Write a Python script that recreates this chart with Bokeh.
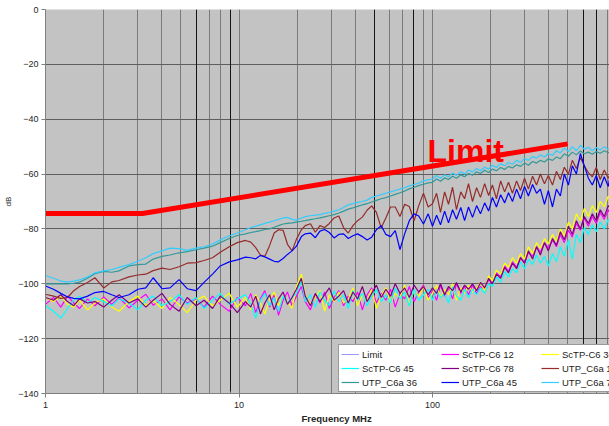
from bokeh.plotting import figure
from bokeh.models import (FixedTicker, Grid, Label, Legend, LegendItem, Range1d,
                          BasicTickFormatter, Title)
from bokeh.embed import file_html
from bokeh.resources import INLINE

# ---------------- data ----------------
FREQ = [1, 1.1, 1.2, 1.3, 1.4, 1.5, 1.65, 1.8, 2, 2.2,
        2.4, 2.7, 3, 3.3, 3.6, 4, 4.4, 4.9, 5.4, 6,
        6.6, 7.3, 8, 8.9, 9.8,
        10.8, 11.5, 12.2, 12.9, 13.6, 14.4, 15.2, 16, 16.9, 17.8,
        18.8, 19.8, 21, 22, 23.4, 24.8, 26.2, 27.7, 29.3, 31,
        32.8, 34.7, 36.7, 38.8, 41, 43.4, 45.9, 48.5, 51.3, 54.3,
        57.4, 60.7, 64.2, 67.9, 71.8, 75.9, 80.3, 84.9, 89.8, 95,
        100, 105, 110, 115.5, 121, 127, 133, 140, 146.5, 153.5,
        161, 169, 177, 186, 195, 204, 214, 225, 236, 247,
        259, 272, 285, 299, 313, 329, 345, 361, 379, 397,
        417, 437, 458, 480, 504, 528, 554, 581, 609, 639,
        670, 702, 736, 772, 810, 830]

LIMIT_FREQ = [1, 3.17, 500]
LIMIT_DB = [-74.4, -74.4, -49]

SCTP_12 = [-107.5, -105, -108.5, -104.5, -107, -109, -105.5, -108, -104.8, -107.5,
           -105, -108.8, -106, -103.8, -107.8, -105.5, -109.5, -104.8, -107, -105.5,
           -108.5, -104.5, -107.5, -110, -105,
           -108, -103.5, -110.5, -105.5, -102.5, -108.5, -104, -111.5, -106, -103,
           -108, -104.5, -101, -106.5, -109.5, -104, -107, -103, -109, -105,
           -102.5, -108, -104.5, -106.5, -103, -109.5, -104, -101.5, -107, -103.5,
           -106, -102, -108.5, -103.5, -105.5, -101, -106.5, -103, -100.5, -105,
           -102.5, -106, -100.5, -104.5, -101.5, -105.5, -100, -103.5, -101, -104,
           -100.5, -103.5, -101, -102, -98.5, -100, -96, -97.5, -93.5, -95.5,
           -92, -94, -90.5, -92.5, -88.5, -90, -86.5, -88.5, -85, -87,
           -84, -86.5, -82, -85, -80.5, -83, -78, -80.5, -76, -79,
           -75.5, -78, -74, -76.5, -73, -74.5]

SCTP_36 = [-105, -106.5, -104.5, -107.5, -108.5, -106, -109.5, -107, -105.5, -108.5,
           -110, -106.5, -104.5, -108, -106, -109, -105, -107.5, -110.5, -106,
           -104.5, -108, -106, -103.5, -108.5,
           -105, -109.5, -104, -107, -111, -105.5, -103, -108, -104.5, -106.5,
           -109, -101, -96.5, -104, -107.5, -105, -102.5, -110, -104, -106.5,
           -103, -107, -105.5, -101.5, -108, -104, -106.5, -102, -109, -104.5,
           -101.5, -107, -103.5, -105, -100.5, -107.5, -102.5, -104.5, -101, -106,
           -103.5, -100.5, -105, -102, -104, -100, -106, -101.5, -103.5, -100.5,
           -103, -101.5, -99.5, -102.5, -97, -99, -95, -96.5, -92.5, -94,
           -90.5, -92.5, -89, -91, -86.5, -89, -85, -87, -83.5, -85.5,
           -82, -84.5, -80, -82.5, -77.5, -80, -74.5, -77, -72.5, -75.5,
           -71.5, -74, -70, -72, -68, -69.5]

SCTP_45 = [-108, -110, -112.5, -109, -106, -104.5, -107, -105, -106.5, -108,
           -105.5, -107, -109.5, -106, -104.5, -108, -106.5, -104, -107.5, -105,
           -109, -106, -103.5, -107.5, -105.5,
           -104, -107.5, -112.5, -106, -103.5, -108, -105, -110, -104.5, -107,
           -105, -103.5, -99, -106.5, -104, -108.5, -103, -106, -108, -102.5,
           -106.5, -104, -109, -102.5, -106, -103.5, -108, -104.5, -102, -106.5,
           -104, -107, -101.5, -105.5, -103, -108, -102, -106, -104, -102,
           -106, -102.5, -105, -103.5, -107, -101, -104.5, -106, -102, -105,
           -102, -104, -101.5, -103.5, -100, -101, -97.5, -99.5, -95.5, -97.5,
           -94.5, -96, -92, -94.5, -91, -93, -89.5, -92.5, -90, -93.5,
           -89, -92, -86.5, -90, -84, -91, -82, -85, -79.5, -82,
           -78.5, -81, -77.5, -80, -76.5, -78.5]

SCTP_78 = [-105, -106, -104, -106.5, -108, -105.5, -107, -106.5, -108.5, -106,
           -104, -107, -105.5, -108.5, -106, -103.5, -107.5, -110, -105, -108,
           -106, -109, -104.5, -107, -110.5,
           -106.5, -108.5, -104.5, -111, -107, -104, -109.5, -105.5, -103, -107.5,
           -105, -102, -98, -104.5, -108, -103.5, -106.5, -104, -101.5, -106,
           -104.5, -102.5, -107, -103, -105.5, -101, -106.5, -103.5, -100.5, -105,
           -102, -104.5, -100, -103.5, -101.5, -105, -100.5, -103, -101, -104,
           -101.5, -103.5, -100, -104, -101, -102.5, -99.5, -103, -100.5, -102,
           -100, -102.5, -99.5, -101.5, -98, -100, -96.5, -98, -94, -96,
           -92.5, -94.5, -90.5, -92.5, -88, -91, -86.5, -89.5, -85, -88,
           -83.5, -86, -81, -84, -79, -82, -77, -80, -75.5, -78,
           -74.5, -77, -73, -75.5, -71.5, -72.5]

UTP_12 = [-103.8, -104.5, -105.3, -105, -102.5, -101, -99.5, -97.8, -101.5, -99.3,
          -98.8, -97.5, -96.8, -96.5, -95.2, -94.3, -94.8, -93.8, -92.5, -92.3,
          -91.5, -90.5, -88.5, -86.5, -85,
          -84.2, -84.8, -86.8, -89.5, -90, -86, -81.5, -80.3, -80.5, -85.6,
          -88, -83.8, -80.3, -78.8, -78.1, -81.2, -78.8, -79.5, -78, -76,
          -75.3, -79.5, -81.5, -78.8, -77, -75.7, -73.2, -71.6, -74, -79.6,
          -76, -72, -72, -75.5, -71, -71.8, -77, -71.5, -67, -72,
          -70.8, -67, -74, -66.5, -71, -64.8, -73, -66.5, -69, -63.5,
          -70, -65, -68.5, -63.5, -67.8, -64, -69, -62.5, -66.5, -63,
          -67, -62.5, -66, -61.5, -65.5, -60.8, -64, -60, -63.5, -60.5,
          -64, -59, -62, -57.5, -60, -55, -58, -54, -57, -59.5,
          -61, -57.5, -62, -58.5, -61.5, -60]

UTP_36 = [-100, -100, -100, -100, -99.8, -99.4, -98, -96.3, -95.5, -95.8,
          -95.3, -93.5, -93, -92.8, -91, -90, -89.5, -88.7, -88.3, -87.6,
          -87, -86.3, -85, -83.5, -82.4,
          -81.8, -81.3, -81, -80.6, -80.2, -80, -79.4, -78.8, -78.2, -78,
          -77.8, -77.5, -77.2, -77, -76.6, -76.3, -76, -75.6, -75.2, -74.8,
          -74.2, -73.5, -72.8, -72.3, -71.8, -71.2, -70.8, -70.2, -69.6, -69,
          -68.6, -68, -67.4, -66.8, -66.2, -65.4, -64.8, -64.2, -63.7, -63.2,
          -63, -61.8, -62.6, -61.4, -62, -60.8, -61.5, -60.3, -61, -59.8,
          -60.4, -59.2, -59.8, -58.6, -59.4, -58.2, -58.8, -57.6, -58.3, -57.2,
          -57.8, -56.6, -57.2, -56, -56.8, -55.4, -56, -55, -55.6, -54.4,
          -55, -53.8, -54.4, -52.6, -53.5, -52, -53, -51.6, -52.6, -52,
          -52.8, -51.8, -52.4, -51.5, -52.2, -51.8]

UTP_45 = [-100.8, -102, -103.5, -104.8, -105.3, -105.5, -104.5, -103.2, -102.8, -104,
          -105, -104, -102, -101.5, -97.8, -101.8, -101.5, -98.5, -101.8, -102.5,
          -99.5, -96.5, -93.5, -92, -91.3,
          -90.3, -90.5, -90.9, -89.7, -90.2, -91, -91.8, -92, -90.8, -89.3,
          -88, -86.3, -82.8, -81.8, -81.5, -83.2, -80.8, -80.2, -81.3, -83.3,
          -82, -81.8, -83.5, -82.5, -81.8, -82.8, -84, -83, -80.3, -78.8,
          -82, -82.8, -80.6, -87.5, -81.8, -77, -74.5, -75.3, -78.2, -74.5,
          -79, -75, -78.5, -73.5, -77.8, -73, -76.5, -72.2, -77, -72,
          -75.8, -71.5, -74.5, -70.5, -73.5, -68.5, -72, -67.5, -70.5, -66.8,
          -70, -65.5, -69, -64.5, -68, -63.8, -67, -65.5, -71, -66,
          -72, -65.5, -68, -60, -64, -57, -60, -52.5, -57, -61.5,
          -64, -60.5, -65, -61, -64.5, -60]

UTP_78 = [-97, -98, -99, -99.4, -99, -98.6, -97.5, -96, -95.3, -94.8,
          -94, -93, -91.8, -90.5, -89, -88, -87, -87.2, -87.8, -87,
          -86.5, -85.5, -84, -82.5, -81.5,
          -80.3, -79.5, -79, -78.5, -78, -77.5, -77, -76.5, -76, -75.8,
          -76.5, -76.8, -76, -75.5, -75.2, -75, -74.8, -74.3, -74, -73.5,
          -73, -72.2, -71.2, -70.8, -70.3, -70, -69.5, -68.5, -68, -67.5,
          -67, -66.5, -66, -65.5, -65, -64.3, -63.8, -63.3, -62.5, -62,
          -61.8, -60.5, -61.5, -60.3, -61, -59.6, -60.4, -59.2, -60, -58.5,
          -59.2, -58, -58.8, -57.5, -58.2, -56.8, -57.6, -56.2, -57, -55.8,
          -56.4, -55, -55.8, -54.3, -55, -53.6, -54.2, -53, -53.8, -52.5,
          -53.2, -51.5, -52.3, -50.5, -51.8, -50, -51.5, -49.5, -51, -50.2,
          -51.5, -50.3, -51.2, -50, -51, -50.5]

SERIES = [
    ("ScTP-C6 12", SCTP_12, "#FF00FF"),
    ("ScTP-C6 36", SCTP_36, "#FFFF00"),
    ("ScTP-C6 45", SCTP_45, "#00FFFF"),
    ("ScTP-C6 78", SCTP_78, "#800080"),
    ("UTP_C6a 12", UTP_12, "#962B2B"),
    ("UTP_C6a 36", UTP_36, "#339999"),
    ("UTP_C6a 45", UTP_45, "#0000FF"),
    ("UTP_C6a 78", UTP_78, "#33CCFF"),
]
for _n, _v, _c in SERIES:
    assert len(_v) == len(FREQ), (_n, len(_v), len(FREQ))

X_TICKS = [1, 10, 100]
X_TICK_LABELS = ["1", "10", "100"]
X_MINOR = [2, 3, 4, 5, 6, 7, 8, 9, 20, 30, 40, 50, 60, 70, 80, 90,
           200, 300, 400, 500, 600, 700, 800, 900]
X_DARK = [6, 9, 50, 80, 600, 700]
Y_TICKS = [-140, -120, -100, -80, -60, -40, -20, 0]
Y_GRID = [-120, -100, -80, -60, -40, -20]

# ---------------- layout ----------------
W, H = 609, 426
LEFT, TOP, BOTTOM = 45, 9, 33
PX_PER_DECADE = 193.5
X_END = 10 ** ((W - LEFT) / PX_PER_DECADE)
FONT = "Liberation Sans"


def fx(page_x):
    return 10 ** ((page_x - LEFT) / PX_PER_DECADE)


def fy(page_y):
    return -(page_y - TOP) * 140.0 / (H - TOP - BOTTOM)


p = figure(width=W, height=H, x_axis_type="log",
           x_range=Range1d(1, X_END), y_range=Range1d(-140, 0),
           output_backend="svg", toolbar_location=None,
           min_border_left=LEFT, min_border_right=0,
           min_border_top=TOP, min_border_bottom=BOTTOM)
p.background_fill_color = "#C3C3C3"
p.border_fill_color = "white"
p.outline_line_color = None

xt = FixedTicker(ticks=X_TICKS, minor_ticks=X_MINOR)
p.xaxis.ticker = xt
p.xaxis.formatter = BasicTickFormatter()
p.xaxis.major_label_overrides = {t: l for t, l in zip(X_TICKS, X_TICK_LABELS)}
p.xaxis.major_tick_out = 4
p.xaxis.major_tick_in = 0
p.xaxis.minor_tick_in = 2
p.xaxis.minor_tick_out = 0
p.xaxis.major_label_standoff = 4
p.xaxis.axis_line_color = "#808080"
p.xaxis.major_tick_line_color = "#808080"
p.xaxis.minor_tick_line_color = "#808080"
p.xaxis.major_label_text_font = FONT
p.xaxis.major_label_text_font_size = "9px"
p.xaxis.major_label_text_color = "#262626"

p.yaxis.ticker = FixedTicker(ticks=Y_TICKS)
p.yaxis.major_tick_out = 4
p.yaxis.major_tick_in = 0
p.yaxis.minor_tick_line_color = None
p.yaxis.major_label_standoff = 3
p.yaxis.axis_line_color = "#808080"
p.yaxis.major_tick_line_color = "#808080"
p.yaxis.major_label_text_font = FONT
p.yaxis.major_label_text_font_size = "9px"
p.yaxis.major_label_text_color = "#262626"
p.yaxis.axis_label = "dB"
p.yaxis.axis_label_text_font = FONT
p.yaxis.axis_label_text_font_size = "8px"
p.yaxis.axis_label_text_font_style = "normal"
p.yaxis.axis_label_text_color = "#262626"
p.yaxis.axis_label_standoff = 2

p.xgrid.ticker = xt
p.xgrid.grid_line_color = "#7A7A7A"
p.xgrid.minor_grid_line_color = "#7A7A7A"
p.ygrid.ticker = FixedTicker(ticks=Y_GRID)
p.ygrid.grid_line_color = "#5E5E5E"
p.add_layout(Grid(dimension=0, ticker=FixedTicker(ticks=X_DARK),
                  grid_line_color="#151515"))

items = []
r_lim = p.line(LIMIT_FREQ, LIMIT_DB, line_color="#9999FF", line_width=1)
items.append(LegendItem(label="Limit", renderers=[r_lim]))
for name, vals, col in SERIES:
    r = p.line(FREQ, vals, line_color=col, line_width=1.2)
    items.append(LegendItem(label=name, renderers=[r]))

p.line(LIMIT_FREQ, LIMIT_DB, line_color="#FF0000", line_width=5)

legend = Legend(items=items, location=(338 - LEFT, 1),
                orientation="horizontal", ncols=3,
                label_text_font=FONT, label_text_font_size="9.5px",
                label_text_color="#222222",
                glyph_width=18, glyph_height=14, label_height=14,
                label_width=79, label_standoff=3, spacing=0,
                padding=2, margin=0,
                border_line_color="#333333", border_line_width=1,
                background_fill_color="white", background_fill_alpha=1)
p.add_layout(legend)

p.add_layout(Label(x=fx(427), y=fy(150), text="Limit", text_font=FONT,
                   text_font_size="32px", text_font_style="bold",
                   text_color="#FF0000", text_baseline="alphabetic",
                   text_align="left"))

xlabel = Title(text="Frequency MHz", align="left",
               offset=336 - LEFT - 35, standoff=0,
               text_font=FONT, text_font_size="9.5px", text_font_style="bold",
               text_color="#262626")
p.add_layout(xlabel, "below")

open("out.html", "w").write(file_html(p, INLINE))
